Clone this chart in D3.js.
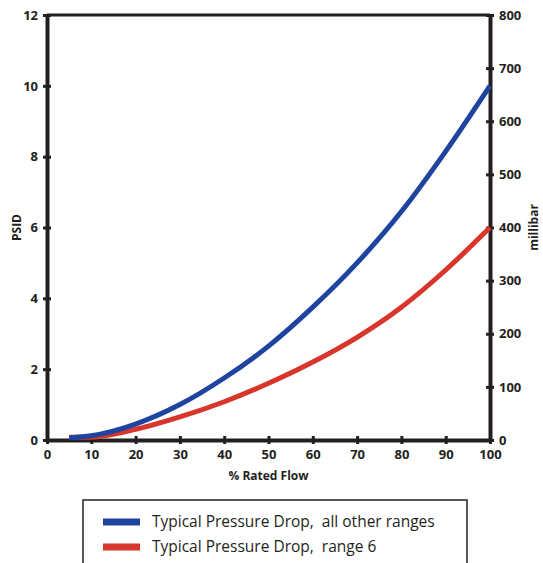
<!DOCTYPE html>
<html>
<head>
<meta charset="utf-8">
<style>
  body { margin: 0; background: #fff; }
  text { font-family: "Open Sans", "DejaVu Sans", sans-serif; }
</style>
</head>
<body>
<svg id="chart" width="543" height="563"></svg>
<script src="https://d3js.org/d3.v7.min.js"></script>
<script>

// values
var flow = [5, 10, 20, 30, 40, 50, 60, 70, 80, 90, 100]
var psidOther = [0.06, 0.12, 0.45, 1.0, 1.75, 2.65, 3.75, 5.0, 6.45, 8.15, 10]
var psidRange6 = [0.08, 0.08, 0.3, 0.65, 1.08, 1.6, 2.2, 2.9, 3.75, 4.8, 6]
var xTicks = [0, 10, 20, 30, 40, 50, 60, 70, 80, 90, 100]
var psidTicks = [0, 2, 4, 6, 8, 10, 12]
var mbarTicks = [0, 100, 200, 300, 400, 500, 600, 700, 800]
var legendLabels = ["Typical Pressure Drop,  all other ranges", "Typical Pressure Drop,  range 6"]
var colors = ["#1f44a0", "#d9362b"]

var svg = d3.select("#chart")
var mLeft = 47, mRight = 490, mTop = 15, mBottom = 440

var x = d3.scaleLinear().domain([0, 100]).range([mLeft, mRight])
var y = d3.scaleLinear().domain([0, 12]).range([mBottom, mTop])
var y2 = d3.scaleLinear().domain([0, 800]).range([mBottom, mTop])

// frame top line
svg.append("line")
  .attr("x1", mLeft).attr("x2", mRight)
  .attr("y1", mTop).attr("y2", mTop)
  .attr("stroke", "#231f20").attr("stroke-width", 3)

function styleAxis(g) {
  g.select(".domain").attr("stroke", "#231f20").attr("stroke-width", 4)
  g.selectAll(".tick line").attr("stroke", "#231f20").attr("stroke-width", 3)
  g.selectAll(".tick text")
    .attr("fill", "#231f20")
    .style("font-size", "13px")
    .style("font-weight", "bold")
}

var gx = svg.append("g").attr("transform", "translate(0," + mBottom + ")")
  .call(d3.axisBottom(x).tickValues(xTicks).tickSize(4).tickSizeOuter(0).tickPadding(6))
gx.selectAll(".tick line").attr("y1", -4)
styleAxis(gx)

var gy = svg.append("g").attr("transform", "translate(" + mLeft + ",0)")
  .call(d3.axisLeft(y).tickValues(psidTicks).tickSize(4).tickSizeOuter(0).tickPadding(5))
gy.selectAll(".tick line").attr("x1", 4)
styleAxis(gy)

var gy2 = svg.append("g").attr("transform", "translate(" + mRight + ",0)")
  .call(d3.axisRight(y2).tickValues(mbarTicks).tickSize(4).tickSizeOuter(0).tickPadding(5))
gy2.selectAll(".tick line").attr("x1", -4)
styleAxis(gy2)

// curves
var line = d3.line()
  .x(function(d){ return x(d[0]) })
  .y(function(d){ return y(d[1]) })
  .curve(d3.curveMonotoneX)

var series = [psidRange6, psidOther]
var seriesColors = [colors[1], colors[0]]
series.forEach(function(s, i){
  svg.append("path")
    .datum(flow.map(function(f, j){ return [f, s[j]] }))
    .attr("d", line)
    .attr("fill", "none")
    .attr("stroke", seriesColors[i])
    .attr("stroke-width", 5)
})

// axis titles
svg.append("text")
  .attr("x", (mLeft + mRight) / 2).attr("y", 480)
  .attr("text-anchor", "middle")
  .style("font-size", "12px").style("font-weight", "bold")
  .attr("fill", "#231f20")
  .text("% Rated Flow")

svg.append("text")
  .attr("transform", "translate(21," + y(6) + ") rotate(-90)")
  .attr("text-anchor", "middle")
  .style("font-size", "12px").style("font-weight", "bold")
  .attr("fill", "#231f20")
  .text("PSID")

svg.append("text")
  .attr("transform", "translate(538," + y(6) + ") rotate(-90)")
  .attr("text-anchor", "middle")
  .style("font-size", "12px").style("font-weight", "bold")
  .attr("fill", "#231f20")
  .text("millibar")

// legend
svg.append("rect")
  .attr("x", 83).attr("y", 500)
  .attr("width", 384).attr("height", 80)
  .attr("fill", "none")
  .attr("stroke", "#231f20").attr("stroke-width", 1.5)

legendLabels.forEach(function(lab, i){
  var ly = 522 + i * 25
  svg.append("rect")
    .attr("x", 103).attr("y", ly - 3.5)
    .attr("width", 37).attr("height", 7)
    .attr("fill", colors[i])
  svg.append("text")
    .attr("x", 152).attr("y", ly + 5)
    .style("font-size", "15.5px")
    .attr("fill", "#231f20")
    .attr("xml:space", "preserve")
    .text(lab)
})

</script>
</body>
</html>
